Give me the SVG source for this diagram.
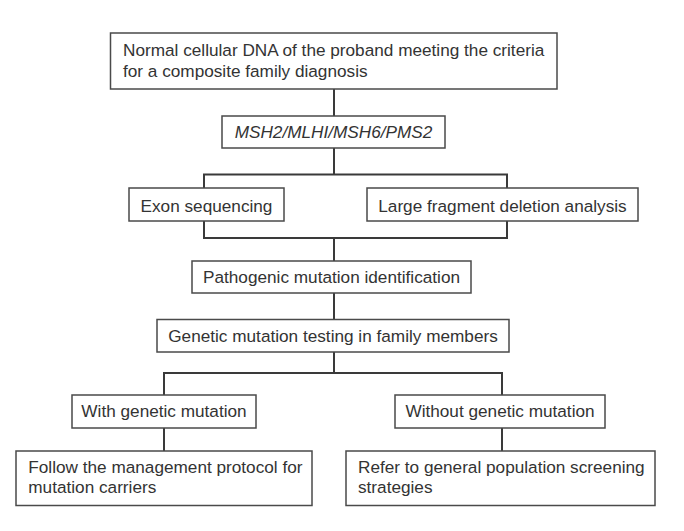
<svg xmlns="http://www.w3.org/2000/svg" width="684" height="531" viewBox="0 0 684 531">
<style>
.box{fill:#fff;stroke:#4a4a4a;stroke-width:1.5}
.t{font-family:"Liberation Sans",Arial,sans-serif;font-size:17.2px;fill:#333}
.c{text-anchor:middle}
.conn{fill:none;stroke:#3a3a3a;stroke-width:2}
</style>
<rect width="684" height="531" fill="#fff"/>
<g id="connectors">
<path class="conn" d="M334,89 V116"/>
<path class="conn" d="M334,148 V174.5"/>
<path class="conn" d="M204,188 V174.5 H507 V188"/>
<path class="conn" d="M204,221 V238 H507 V221"/>
<path class="conn" d="M334,238 V261"/>
<path class="conn" d="M334,293 V319"/>
<path class="conn" d="M334,352 V373"/>
<path class="conn" d="M164,395 V373 H502 V395"/>
<path class="conn" d="M164,428 V451"/>
<path class="conn" d="M502,428 V451"/>
</g>
<g id="n1">
<rect class="box" x="110.5" y="33" width="446.5" height="56"/>
<text class="t" x="123" y="56">Normal cellular DNA of the proband meeting the criteria</text>
<text class="t" x="123" y="77">for a composite family diagnosis</text>
</g>
<g id="n2">
<rect class="box" x="222" y="116" width="223" height="32"/>
<text class="t c" x="333.5" y="138" font-style="italic">MSH2/MLHI/MSH6/PMS2</text>
</g>
<g id="n3">
<rect class="box" x="129" y="188" width="155" height="33"/>
<text class="t c" x="206.5" y="211.5">Exon sequencing</text>
</g>
<g id="n4">
<rect class="box" x="367" y="188" width="271" height="33"/>
<text class="t c" x="502.5" y="211.5">Large fragment deletion analysis</text>
</g>
<g id="n5">
<rect class="box" x="192" y="261" width="279" height="32"/>
<text class="t c" x="331.5" y="283.3">Pathogenic mutation identification</text>
</g>
<g id="n6">
<rect class="box" x="157" y="319.5" width="352" height="32.5"/>
<text class="t c" x="333" y="341.7">Genetic mutation testing in family members</text>
</g>
<g id="n7">
<rect class="box" x="72" y="395" width="184" height="33"/>
<text class="t c" x="164" y="416.8">With genetic mutation</text>
</g>
<g id="n8">
<rect class="box" x="395" y="395" width="210" height="33"/>
<text class="t c" x="500" y="416.8">Without genetic mutation</text>
</g>
<g id="n9">
<rect class="box" x="16" y="451" width="296" height="54.5"/>
<text class="t" x="28.3" y="473.3">Follow the management protocol for</text>
<text class="t" x="28.3" y="493.3">mutation carriers</text>
</g>
<g id="n10">
<rect class="box" x="346" y="451" width="309" height="54.5"/>
<text class="t" x="358" y="473.3">Refer to general population screening</text>
<text class="t" x="358" y="493.3">strategies</text>
</g>
</svg>
